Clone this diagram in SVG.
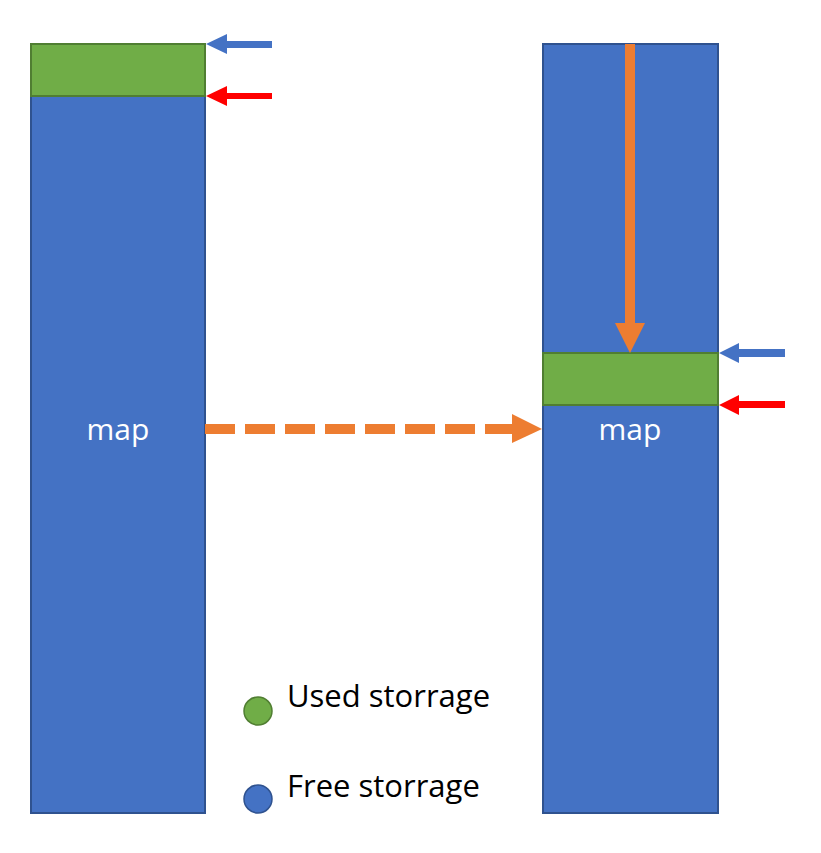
<svg xmlns="http://www.w3.org/2000/svg" width="821" height="853" viewBox="0 0 821 853">
<style>
.free{fill:#4472C4;stroke:#2F528F;stroke-width:2}
.used{fill:#70AD47;stroke:#507E32;stroke-width:2}
.lbl{font-family:"Open Sans","Noto Sans",sans-serif;fill:#fff;font-size:30px;text-anchor:middle}
.leg{font-family:"Open Sans","Noto Sans",sans-serif;fill:#000;font-size:31px}
</style>
<rect width="821" height="853" fill="#fff"/>
<g id="left-column">
<rect class="free" x="31" y="44" width="174" height="769"/>
<rect class="used" x="31" y="44" width="174" height="52"/>
<text class="lbl" x="118" y="440">map</text>
</g>
<g id="right-column">
<rect class="free" x="543" y="44" width="175" height="769"/>
<rect class="used" x="543" y="353" width="175" height="52"/>
<text class="lbl" x="630" y="440">map</text>
</g>
<g id="connectors">
<polygon fill="#4472C4" points="206,44 227,34 227,41 272,41 272,48 227,48 227,54"/>
<polygon fill="#FF0000" points="206,96 227,86 227,93 272,93 272,99 227,99 227,106"/>
<polygon fill="#4472C4" points="719,353 739,343 739,349 785,349 785,357 739,357 739,363"/>
<polygon fill="#FF0000" points="719,405 739,395 739,401 785,401 785,408 739,408 739,415"/>
<polygon fill="#ED7D31" points="625,44 635,44 635,323 645,323 630,353 615,323 625,323"/>
<line x1="205" y1="429" x2="512" y2="429" stroke="#ED7D31" stroke-width="10" stroke-dasharray="30 10"/>
<polygon fill="#ED7D31" points="512,414 542,429 512,443"/>
</g>
<g id="legend">
<circle cx="258" cy="711" r="14" fill="#70AD47" stroke="#507E32" stroke-width="1.5"/>
<text class="leg" x="287" y="707">Used storrage</text>
<circle cx="258" cy="799" r="14" fill="#4472C4" stroke="#2F528F" stroke-width="1.5"/>
<text class="leg" x="287" y="797">Free storrage</text>
</g>
</svg>
